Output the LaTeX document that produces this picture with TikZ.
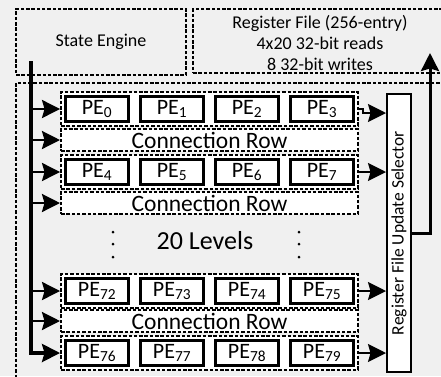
\documentclass[tikz,border=0pt]{standalone}
\usepackage{fontspec}
\usepackage{graphicx}
\setmainfont{Carlito}
\usetikzlibrary{arrows.meta,positioning,fit,backgrounds}
\definecolor{panelgray}{HTML}{F0F0F0}

\begin{document}
\begin{tikzpicture}[
    x=1pt, y=-1pt,
    node distance=9pt,
    region/.style={draw, line width=2.1pt, dash pattern=on 3.5pt off 1.8pt},
    pe/.style={draw, line width=2.8pt, fill=white, minimum width=63.2pt,
               minimum height=25.2pt, inner sep=0pt,
               font=\fontsize{22}{26}\selectfont},
    grp/.style={region, fill=white, inner sep=2.9pt},
    connrow/.style={region, fill=white, minimum width=296.9pt,
                    minimum height=21.9pt, inner sep=0pt,
                    font=\fontsize{23.5}{28}\selectfont},
    txt/.style={font=\fontsize{17.5}{21}\selectfont, align=center},
    arrow/.style={-{Stealth[length=18pt, width=18pt, inset=2.5pt]},
                  line width=2.6pt},
]
\useasboundingbox (0,0) rectangle (441,376);
\clip (0,0) rectangle (441,376);

% Top blocks
\node[region, txt, font=\fontsize{18}{21}\selectfont,
      minimum width=169.9pt, minimum height=65.9pt]
     (se) at (101,42) {State Engine};
\node[region, minimum width=252pt, minimum height=63.9pt] (rf) at (319,41) {};
\node[txt, font=\fontsize{18}{21}\selectfont] (rftext) at (320,42.5)
     {Register File (256-entry)\\4x20 32-bit reads\\8 32-bit writes};
\draw[region] (16,83) rectangle (470,400);

% PE rows
\node[pe] (pe0) at (97,109) {PE\textsubscript{0}};
\node[pe, right=of pe0] (pe1) {PE\textsubscript{1}};
\node[pe, right=of pe1] (pe2) {PE\textsubscript{2}};
\node[pe, right=of pe2] (pe3) {PE\textsubscript{3}};

\node[pe] (pe4) at (97,172) {PE\textsubscript{4}};
\node[pe, right=of pe4] (pe5) {PE\textsubscript{5}};
\node[pe, right=of pe5] (pe6) {PE\textsubscript{6}};
\node[pe, right=of pe6] (pe7) {PE\textsubscript{7}};

\node[pe] (pe72) at (97,291) {PE\textsubscript{72}};
\node[pe, right=of pe72] (pe73) {PE\textsubscript{73}};
\node[pe, right=of pe73] (pe74) {PE\textsubscript{74}};
\node[pe, right=of pe74] (pe75) {PE\textsubscript{75}};

\node[pe] (pe76) at (97,353) {PE\textsubscript{76}};
\node[pe, right=of pe76] (pe77) {PE\textsubscript{77}};
\node[pe, right=of pe77] (pe78) {PE\textsubscript{78}};
\node[pe, right=of pe78] (pe79) {PE\textsubscript{79}};

% Connection rows
\node[connrow] (conn1) at (209.5,140) {Connection Row};
\node[connrow] (conn2) at (209.5,203) {Connection Row};
\node[connrow] (conn3) at (209.5,321) {Connection Row};

% Levels
\node[font=\fontsize{26}{30}\selectfont] (lvl) at (205,241) {20 Levels};
\foreach \dx in {113,299}
  \foreach \dy in {232,244,257}
    \fill (\dx,\dy) circle (1.5pt);

% Selector
\node[draw, fill=white, line width=2.4pt, minimum width=23.6pt,
      minimum height=277.6pt, inner sep=0pt, txt]
     (sel) at (399,233) {\rotatebox{90}{Register File Update Selector}};

\begin{scope}[on background layer]
\fill[panelgray] (0,0) rectangle (441,376);
\node[grp, fit=(pe0)(pe3)] (grp1) {};
\node[grp, fit=(pe4)(pe7)] (grp2) {};
\node[grp, fit=(pe72)(pe75)] (grp3) {};
\node[grp, fit=(pe76)(pe79)] (grp4) {};
\end{scope}

% State engine bus
\coordinate (bustop) at (31,61);
\draw[arrow, line width=3.6pt] (bustop) |- (grp4.west);
\draw[arrow] (bustop |- grp1.west) -- (grp1.west);
\draw[arrow] (bustop |- conn1.west) -- (conn1.west);
\draw[arrow] (bustop |- grp2.west) -- (grp2.west);
\draw[arrow] (bustop |- conn2.west) -- (conn2.west);
\draw[arrow] (bustop |- grp3.west) -- (grp3.west);
\draw[arrow] (bustop |- conn3.west) -- (conn3.west);

% Results to selector
\draw[arrow, line width=1.6pt] (grp1.east) -- ++(4,0) |- ([yshift=-4pt]sel.west |- grp1.east);
\draw[arrow, line width=1.6pt] (grp2.east) -- (sel.west |- grp2.east);
\draw[arrow, line width=1.6pt] (grp3.east) -- (sel.west |- grp3.east);
\draw[arrow, line width=1.6pt] (grp4.east) -- (sel.west |- grp4.east);

% Write-back
\coordinate (rfin) at (430,53);
\draw[arrow, line width=3pt] (sel.east) -| (rfin);
\end{tikzpicture}
\end{document}
